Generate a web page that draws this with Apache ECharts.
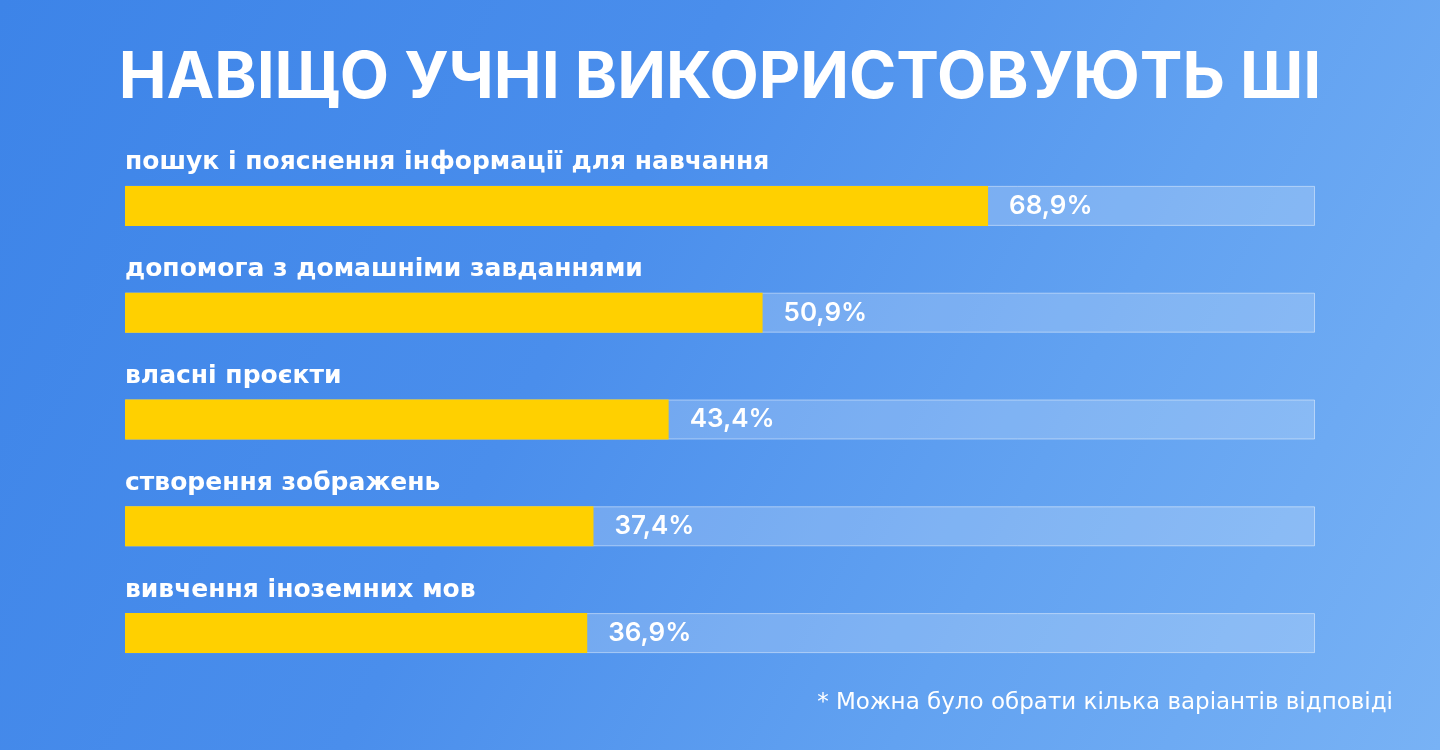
<!DOCTYPE html>
<html><head><meta charset="utf-8">
<script src="https://cdn.jsdelivr.net/npm/echarts@6/dist/echarts.min.js"></script>
<style>html,body{margin:0;padding:0;width:1440px;height:750px;overflow:hidden}#c{width:1440px;height:750px}</style>
</head><body><div id="c"></div>
<script>
const categories = ['пошук і пояснення інформації для навчання','допомога з домашніми завданнями','власні проєкти','створення зображень','вивчення іноземних мов'];
const values = [68.9, 50.9, 43.4, 37.4, 36.9];
const axisMax = 95;
const titleText = 'НАВІЩО УЧНІ ВИКОРИСТОВУЮТЬ ШІ';
const footnote = '* Можна було обрати кілька варіантів відповіді';

const chart = echarts.init(document.getElementById('c'));
chart.setOption({
  backgroundColor: new echarts.graphic.LinearGradient(0, 0, 1, 1, [
    {offset: 0, color: '#3d84e8'},
    {offset: 0.4, color: '#4a8eec'},
    {offset: 0.7, color: '#62a2f1'},
    {offset: 1, color: '#78b2f5'}
  ]),
  animation: false,
  title: {
    text: titleText, left: 'center', top: 42,
    textStyle: {color: '#fff', fontFamily: 'Inter', fontWeight: 700, fontSize: 64}
  },
  graphic: [{
    type: 'text', right: 47, top: 692,
    style: {text: footnote, fill: '#fff', fontFamily: 'DejaVu Sans', fontSize: 23, fontWeight: 'normal'}
  }],
  grid: {left: 125, right: 125, top: 152.5, height: 534},
  xAxis: {type: 'value', min: 0, max: axisMax, show: false},
  yAxis: {type: 'category', data: categories, inverse: true, show: false},
  series: [{
    type: 'bar', barWidth: 40, z: 1, silent: true,
    data: categories.map(() => axisMax),
    itemStyle: {color: 'rgba(255,255,255,0.2)', borderColor: 'rgba(255,255,255,0.45)', borderWidth: 1},
    label: {show: true, position: [0, -23], align: 'left', verticalAlign: 'middle', formatter: '{b}',
      color: '#fff', fontFamily: 'DejaVu Sans', fontWeight: 'bold', fontSize: 25}
  }, {
    type: 'bar', barWidth: 40, barGap: '-100%', z: 2,
    data: values,
    itemStyle: {color: '#ffd000'},
    label: {show: true, position: 'right', distance: 21, formatter: p => String(p.value).replace('.', ',') + '%',
      color: '#fff', fontFamily: 'Inter', fontWeight: 600, fontSize: 26}
  }]
});
</script></body></html>
